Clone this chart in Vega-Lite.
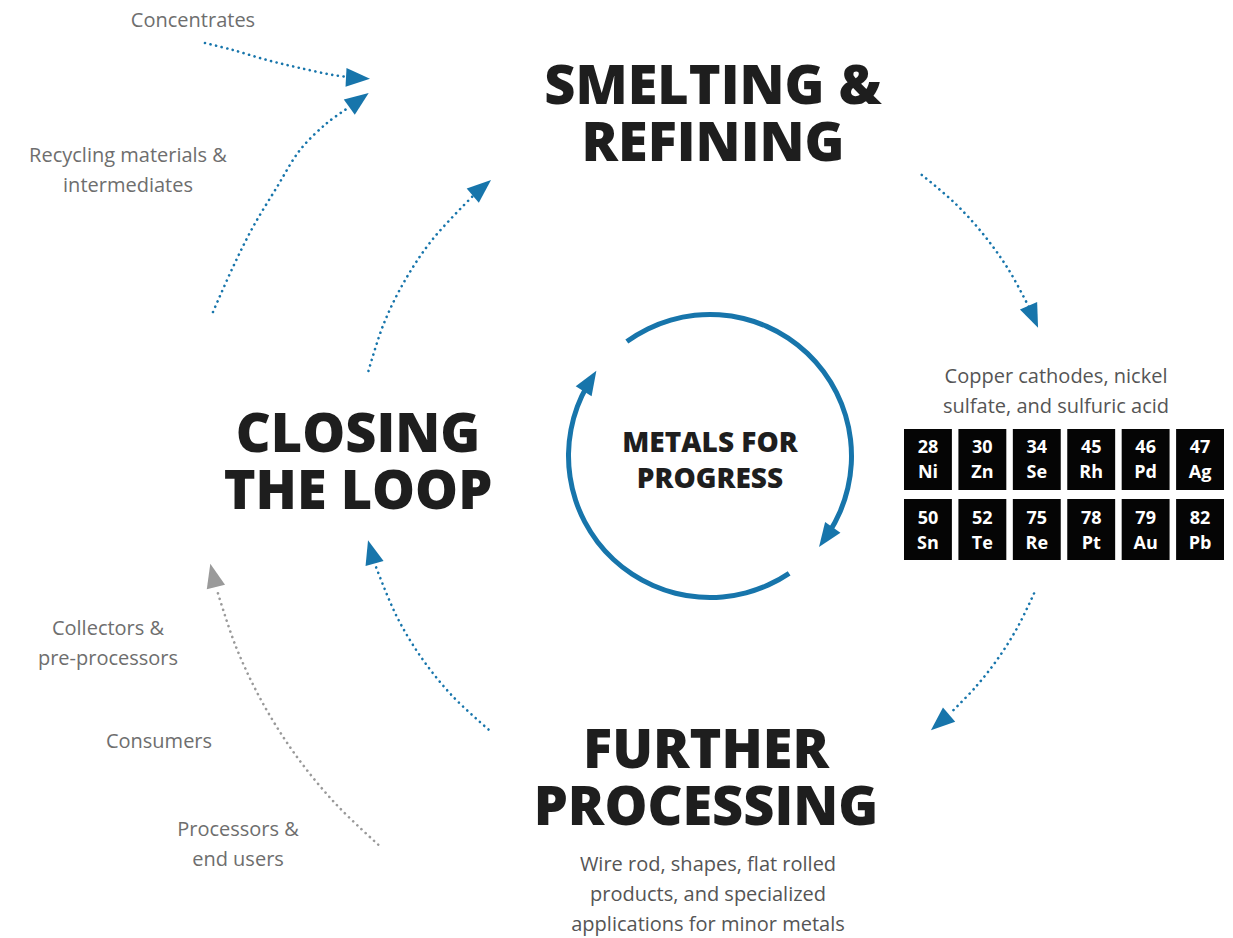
{
  "$schema": "https://vega.github.io/schema/vega-lite/v6.json",
  "width": 1233,
  "height": 938,
  "padding": 0,
  "autosize": {"type": "none"},
  "background": "white",
  "config": {"view": {"stroke": null}},
  "datasets": {
    "titles": [
      {"text": "SMELTING &\nREFINING", "x": 713, "y": 104},
      {"text": "CLOSING\nTHE LOOP", "x": 358, "y": 452},
      {"text": "FURTHER\nPROCESSING", "x": 706, "y": 768}
    ],
    "center": [
      {"text": "METALS FOR\nPROGRESS", "x": 710, "y": 452}
    ],
    "labels": [
      {"text": "Concentrates", "x": 193, "y": 27, "kind": "input"},
      {"text": "Recycling materials &\nintermediates", "x": 128, "y": 162, "kind": "input"},
      {"text": "Collectors &\npre-processors", "x": 108, "y": 635, "kind": "input"},
      {"text": "Consumers", "x": 159, "y": 748, "kind": "input"},
      {"text": "Processors &\nend users", "x": 238, "y": 836, "kind": "input"},
      {"text": "Copper cathodes, nickel\nsulfate, and sulfuric acid", "x": 1056, "y": 383, "kind": "product"},
      {"text": "Wire rod, shapes, flat rolled\nproducts, and specialized\napplications for minor metals", "x": 708, "y": 871, "kind": "product"}
    ],
    "rings": [
      {"x": 710, "y": 456, "start": -36, "end": 123},
      {"x": 710, "y": 456, "start": 146, "end": 300}
    ],
    "heads": [
      {"x": 825.9, "y": 537.2, "dir": 215, "kind": "flow"},
      {"x": 590, "y": 381, "dir": 32, "kind": "flow"},
      {"x": 1033.3, "y": 316.8, "dir": 156.7, "kind": "flow"},
      {"x": 940.0, "y": 722.5, "dir": 229.2, "kind": "flow"},
      {"x": 371.3, "y": 551.9, "dir": 344.2, "kind": "flow"},
      {"x": 481.9, "y": 187.9, "dir": 49.6, "kind": "flow"},
      {"x": 213.1, "y": 575.3, "dir": 346.5, "kind": "recycle"},
      {"x": 359, "y": 100, "dir": 54, "kind": "flow"},
      {"x": 358, "y": 78, "dir": 93, "kind": "flow"}
    ],
    "paths": [
      {"path": "A", "i": 1, "x": 921.8, "y": 174.9, "kind": "flow"},
      {"path": "A", "i": 2, "x": 954.5, "y": 202.8, "kind": "flow"},
      {"path": "A", "i": 3, "x": 983.5, "y": 234.5, "kind": "flow"},
      {"path": "A", "i": 4, "x": 1008.5, "y": 269.5, "kind": "flow"},
      {"path": "A", "i": 5, "x": 1029.0, "y": 307.2, "kind": "flow"},
      {"path": "B", "i": 1, "x": 1034.0, "y": 593.5, "kind": "flow"},
      {"path": "B", "i": 2, "x": 1017.9, "y": 626.6, "kind": "flow"},
      {"path": "B", "i": 3, "x": 998.4, "y": 657.9, "kind": "flow"},
      {"path": "B", "i": 4, "x": 975.7, "y": 686.9, "kind": "flow"},
      {"path": "B", "i": 5, "x": 950.1, "y": 713.4, "kind": "flow"},
      {"path": "C", "i": 1, "x": 488.5, "y": 729.5, "kind": "flow"},
      {"path": "C", "i": 2, "x": 452.5, "y": 696.1, "kind": "flow"},
      {"path": "C", "i": 3, "x": 421.6, "y": 657.9, "kind": "flow"},
      {"path": "C", "i": 4, "x": 396.4, "y": 615.8, "kind": "flow"},
      {"path": "C", "i": 5, "x": 375.2, "y": 564.8, "kind": "flow"},
      {"path": "D", "i": 1, "x": 368.5, "y": 370.9, "kind": "flow"},
      {"path": "D", "i": 2, "x": 383.6, "y": 324.1, "kind": "flow"},
      {"path": "D", "i": 3, "x": 405.2, "y": 280.0, "kind": "flow"},
      {"path": "D", "i": 4, "x": 432.6, "y": 239.3, "kind": "flow"},
      {"path": "D", "i": 5, "x": 474.5, "y": 194.4, "kind": "flow"},
      {"path": "E", "i": 1, "x": 378.2, "y": 844.6, "kind": "recycle"},
      {"path": "E", "i": 2, "x": 336.3, "y": 804.5, "kind": "recycle"},
      {"path": "E", "i": 3, "x": 296.6, "y": 756.4, "kind": "recycle"},
      {"path": "E", "i": 4, "x": 263.1, "y": 703.7, "kind": "recycle"},
      {"path": "E", "i": 5, "x": 236.2, "y": 647.4, "kind": "recycle"},
      {"path": "E", "i": 6, "x": 216.4, "y": 588.2, "kind": "recycle"},
      {"path": "F", "i": 1, "x": 213, "y": 312, "kind": "flow"},
      {"path": "F", "i": 2, "x": 233, "y": 267, "kind": "flow"},
      {"path": "F", "i": 3, "x": 253, "y": 227, "kind": "flow"},
      {"path": "F", "i": 4, "x": 277, "y": 187, "kind": "flow"},
      {"path": "F", "i": 5, "x": 300, "y": 150, "kind": "flow"},
      {"path": "F", "i": 6, "x": 327, "y": 123, "kind": "flow"},
      {"path": "F", "i": 7, "x": 348, "y": 108, "kind": "flow"},
      {"path": "G", "i": 1, "x": 205, "y": 43, "kind": "flow"},
      {"path": "G", "i": 2, "x": 233, "y": 50, "kind": "flow"},
      {"path": "G", "i": 3, "x": 267, "y": 60, "kind": "flow"},
      {"path": "G", "i": 4, "x": 300, "y": 68, "kind": "flow"},
      {"path": "G", "i": 5, "x": 333, "y": 75, "kind": "flow"},
      {"path": "G", "i": 6, "x": 348, "y": 77, "kind": "flow"}
    ],
    "tiles": [
      {"n": "28", "sym": "Ni", "col": 1, "row": 1},
      {"n": "30", "sym": "Zn", "col": 2, "row": 1},
      {"n": "34", "sym": "Se", "col": 3, "row": 1},
      {"n": "45", "sym": "Rh", "col": 4, "row": 1},
      {"n": "46", "sym": "Pd", "col": 5, "row": 1},
      {"n": "47", "sym": "Ag", "col": 6, "row": 1},
      {"n": "50", "sym": "Sn", "col": 1, "row": 2},
      {"n": "52", "sym": "Te", "col": 2, "row": 2},
      {"n": "75", "sym": "Re", "col": 3, "row": 2},
      {"n": "78", "sym": "Pt", "col": 4, "row": 2},
      {"n": "79", "sym": "Au", "col": 5, "row": 2},
      {"n": "82", "sym": "Pb", "col": 6, "row": 2}
    ]
  },
  "layer": [
    {
      "encoding": {
        "x": {"field": "x", "type": "quantitative", "axis": null,
              "scale": {"domain": [0, 1233], "nice": false, "zero": false}},
        "y": {"field": "y", "type": "quantitative", "axis": null,
              "scale": {"domain": [0, 938], "reverse": true, "nice": false, "zero": false}}
      },
      "layer": [
        {
          "data": {"name": "paths"},
          "mark": {"type": "line", "interpolate": "catmull-rom", "strokeWidth": 2.6,
                   "strokeDash": [0.1, 5.6], "strokeCap": "round"},
          "encoding": {
            "detail": {"field": "path"},
            "order": {"field": "i", "type": "quantitative"},
            "color": {"field": "kind", "type": "nominal", "legend": null,
                      "scale": {"domain": ["flow", "recycle", "input", "product"],
                                "range": ["#1775ab", "#9a9a9a", "#6e6e6e", "#555555"]}}
          }
        },
        {
          "data": {"name": "rings"},
          "mark": {"type": "arc", "radius": 144, "radius2": 139, "color": "#1775ab"},
          "encoding": {
            "theta": {"field": "start", "type": "quantitative", "stack": null,
                      "scale": {"domain": [0, 360], "range": [0, 6.283185307]}},
            "theta2": {"field": "end"}
          }
        },
        {
          "data": {"name": "heads"},
          "mark": {"type": "point", "filled": true, "opacity": 1, "size": 576,
                   "shape": "M0,-1L0.78,1L-0.78,1Z"},
          "encoding": {
            "angle": {"field": "dir", "type": "quantitative", "scale": null},
            "color": {"field": "kind", "type": "nominal", "legend": null,
                      "scale": {"domain": ["flow", "recycle", "input", "product"],
                                "range": ["#1775ab", "#7a7a7a", "#6e6e6e", "#555555"]}}
          }
        },
        {
          "data": {"name": "titles"},
          "mark": {"type": "text", "font": "Open Sans", "fontWeight": 800, "fontSize": 54,
                   "baseline": "alphabetic", "align": "center", "color": "#1e1e1e",
                   "lineBreak": "\n", "lineHeight": 57},
          "encoding": {"text": {"field": "text"}}
        },
        {
          "data": {"name": "center"},
          "mark": {"type": "text", "font": "Open Sans", "fontWeight": 800, "fontSize": 28,
                   "baseline": "alphabetic", "align": "center", "color": "#1e1e1e",
                   "lineBreak": "\n", "lineHeight": 36},
          "encoding": {"text": {"field": "text"}}
        },
        {
          "data": {"name": "labels"},
          "mark": {"type": "text", "font": "Open Sans", "fontWeight": 400, "fontSize": 20,
                   "baseline": "alphabetic", "align": "center", "lineBreak": "\n", "lineHeight": 30},
          "encoding": {
            "text": {"field": "text"},
            "color": {"field": "kind", "type": "nominal", "legend": null,
                      "scale": {"domain": ["flow", "recycle", "input", "product"],
                                "range": ["#1775ab", "#9a9a9a", "#6e6e6e", "#555555"]}}
          }
        }
      ]
    },
    {
      "data": {"name": "tiles"},
      "encoding": {
        "x": {"field": "col", "type": "ordinal", "axis": null,
              "scale": {"domain": [1, 2, 3, 4, 5, 6], "range": [904, 1224], "paddingInner": 0.12, "paddingOuter": 0}},
        "y": {"field": "row", "type": "ordinal", "axis": null,
              "scale": {"domain": [1, 2], "range": [429, 560], "paddingInner": 0.13, "paddingOuter": 0}}
      },
      "layer": [
        {"mark": {"type": "rect", "color": "#050505"}},
        {"mark": {"type": "text", "font": "Open Sans", "fontWeight": 700, "fontSize": 18,
                  "color": "white", "baseline": "middle", "dy": -11},
         "encoding": {"text": {"field": "n"}}},
        {"mark": {"type": "text", "font": "Open Sans", "fontWeight": 700, "fontSize": 18,
                  "color": "white", "baseline": "middle", "dy": 14},
         "encoding": {"text": {"field": "sym"}}}
      ]
    }
  ],
  "resolve": {"scale": {"x": "independent", "y": "independent", "color": "shared"}}
}
